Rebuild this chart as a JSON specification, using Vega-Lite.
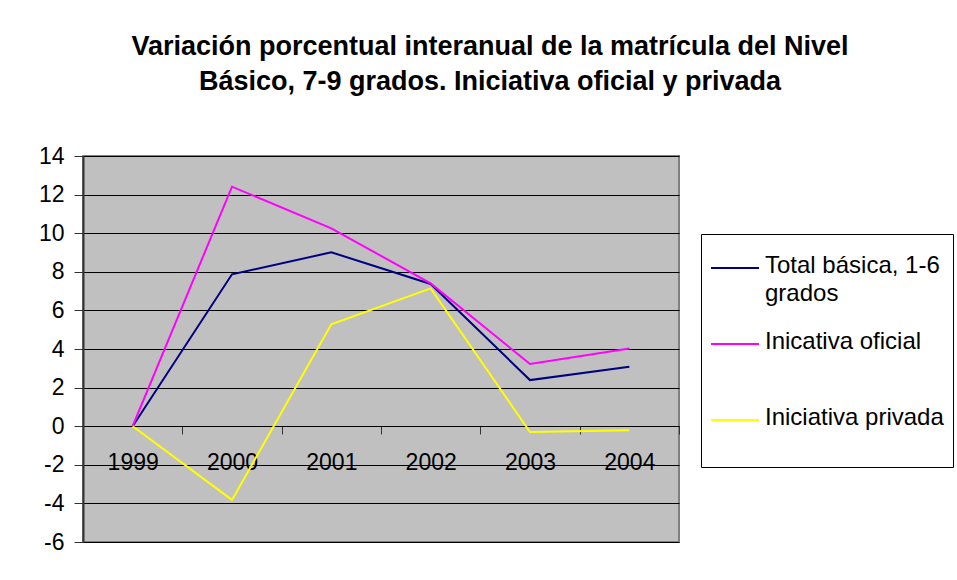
{
  "$schema": "https://vega.github.io/schema/vega-lite/v6.json",
  "width": 596,
  "height": 386,
  "autosize": {"type": "none"},
  "padding": {"left": 83, "top": 156, "right": 278, "bottom": 38},
  "background": "white",
  "title": {
    "text": ["Variación porcentual interanual de la matrícula del Nivel", "Básico, 7-9 grados. Iniciativa oficial y privada"],
    "font": "Liberation Sans",
    "fontSize": 27,
    "fontWeight": "bold",
    "color": "black",
    "anchor": "middle",
    "dx": 109,
    "lineHeight": 35,
    "offset": 49
  },
  "config": {
    "view": {"fill": "#C0C0C0", "stroke": "#808080", "strokeWidth": 2},
    "font": "Liberation Sans",
    "style": {"guide-label": {"lineHeight": 28}}
  },
  "data": {
    "values": [
      {"year": "1999", "serie": "Total básica, 1-6 grados", "value": 0},
      {"year": "2000", "serie": "Total básica, 1-6 grados", "value": 7.87},
      {"year": "2001", "serie": "Total básica, 1-6 grados", "value": 9.01},
      {"year": "2002", "serie": "Total básica, 1-6 grados", "value": 7.37},
      {"year": "2003", "serie": "Total básica, 1-6 grados", "value": 2.39},
      {"year": "2004", "serie": "Total básica, 1-6 grados", "value": 3.08},
      {"year": "1999", "serie": "Inicativa oficial", "value": 0},
      {"year": "2000", "serie": "Inicativa oficial", "value": 12.41},
      {"year": "2001", "serie": "Inicativa oficial", "value": 10.25},
      {"year": "2002", "serie": "Inicativa oficial", "value": 7.4},
      {"year": "2003", "serie": "Inicativa oficial", "value": 3.22},
      {"year": "2004", "serie": "Inicativa oficial", "value": 4.03},
      {"year": "1999", "serie": "Iniciativa privada", "value": 0},
      {"year": "2000", "serie": "Iniciativa privada", "value": -3.82},
      {"year": "2001", "serie": "Iniciativa privada", "value": 5.28},
      {"year": "2002", "serie": "Iniciativa privada", "value": 7.14},
      {"year": "2003", "serie": "Iniciativa privada", "value": -0.3},
      {"year": "2004", "serie": "Iniciativa privada", "value": -0.21}
    ]
  },
  "mark": {"type": "line", "strokeWidth": 2},
  "encoding": {
    "x": {
      "field": "year",
      "type": "ordinal",
      "bandPosition": 0.5,
      "scale": {"type": "band", "paddingInner": 0, "paddingOuter": 0},
      "axis": {
        "title": null,
        "orient": "bottom",
        "offset": -116,
        "labelAngle": 0,
        "tickBand": "extent",
        "domainColor": "black",
        "tickColor": "#333333",
        "tickSize": 8,
        "labelFontSize": 23,
        "labelColor": "black",
        "labelPadding": 17,
        "grid": false
      }
    },
    "y": {
      "field": "value",
      "type": "quantitative",
      "scale": {"domain": [-6, 14], "nice": false, "zero": false},
      "axis": {
        "title": null,
        "values": [-6, -4, -2, 0, 2, 4, 6, 8, 10, 12, 14],
        "labelExpr": "datum.value < 0 ? '-' + abs(datum.value) : '' + datum.value",
        "domainColor": "#333333",
        "domainWidth": 2,
        "tickColor": "#333333",
        "tickSize": 9,
        "labelPadding": 10,
        "labelFontSize": 23,
        "labelColor": "black",
        "grid": true,
        "gridColor": "black",
        "gridOpacity": 1,
        "gridWidth": 1
      }
    },
    "color": {
      "field": "serie",
      "type": "nominal",
      "scale": {
        "domain": ["Total básica, 1-6 grados", "Inicativa oficial", "Iniciativa privada"],
        "range": ["#000080", "#FF00FF", "#FFFF00"]
      },
      "legend": {
        "title": null,
        "orient": "none",
        "legendX": 618,
        "legendY": 78,
        "direction": "vertical",
        "strokeColor": "black",
        "fillColor": "white",
        "padding": 9,
        "symbolType": "stroke",
        "symbolSize": 2304,
        "symbolStrokeWidth": 2,
        "labelFontSize": 24,
        "labelColor": "black",
        "labelLimit": 400,
        "labelOffset": 5,
        "labelBaseline": "top",
        "rowPadding": 13,
        "labelExpr": "datum.label == 'Total básica, 1-6 grados' ? ['Total básica, 1-6', 'grados'] : [datum.label, ' ']",
        "encode": {"labels": {"update": {"dy": {"value": -14}}}}
      }
    }
  }
}
